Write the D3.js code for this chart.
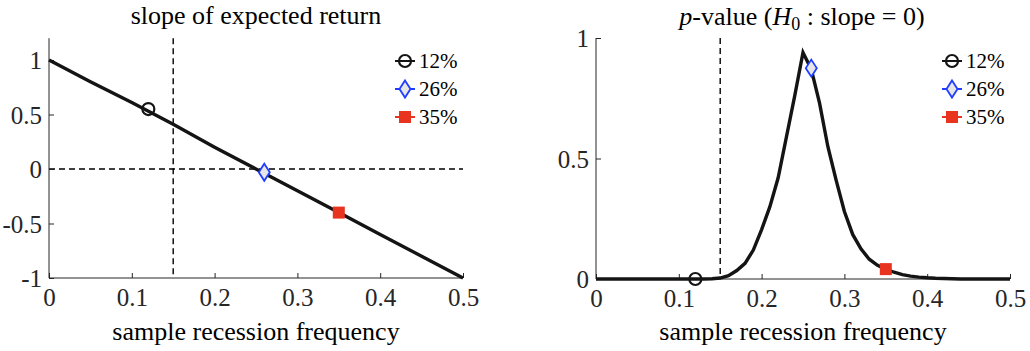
<!DOCTYPE html>
<html>
<head>
<meta charset="utf-8">
<title>Recession frequency</title>
<style>
  body { margin: 0; background: #fff; }
  svg { display: block; }
</style>
</head>
<body>
<svg id="chart" width="1030" height="351"></svg>
<script src="https://cdn.jsdelivr.net/npm/d3@7"></script>
<script>
// sample recession frequency grid for the slope line
var slopeX = [0, 0.05, 0.1, 0.15, 0.2, 0.25, 0.3, 0.35, 0.4, 0.45, 0.5];
var slopeY = [1, 0.8, 0.61, 0.41, 0.2, 0.0, -0.2, -0.4, -0.6, -0.8, -1];

// p-value curve, 0.01 steps
var pX = [0, 0.01, 0.02, 0.03, 0.04, 0.05, 0.06, 0.07, 0.08, 0.09, 0.1,
          0.11, 0.12, 0.13, 0.14, 0.15, 0.16, 0.17, 0.18, 0.19, 0.2,
          0.21, 0.22, 0.23, 0.24, 0.25, 0.26, 0.27, 0.28, 0.29, 0.3,
          0.31, 0.32, 0.33, 0.34, 0.35, 0.36, 0.37, 0.38, 0.39, 0.4,
          0.41, 0.42, 0.43, 0.44, 0.45, 0.46, 0.47, 0.48, 0.49, 0.5];
var pY = [0, 0, 0, 0, 0, 0, 0, 0, 0, 0, 0,
          0, 0, 0, 0.001, 0.004, 0.014, 0.035, 0.065, 0.12, 0.205,
          0.30, 0.42, 0.59, 0.76, 0.94, 0.87, 0.73, 0.55, 0.41, 0.28,
          0.185, 0.125, 0.082, 0.057, 0.041, 0.028, 0.018, 0.012, 0.008, 0.005,
          0.003, 0.002, 0.001, 0, 0, 0, 0, 0, 0, 0];

// highlighted samples
var markLabels = ["12%", "26%", "35%"];
var markX = [0.12, 0.26, 0.35];
var slopeMarkY = [0.55, -0.03, -0.4];
var pMarkY = [0, 0.875, 0.041];

var xTicks = [0, 0.1, 0.2, 0.3, 0.4, 0.5];
var slopeTicks = [-1, -0.5, 0, 0.5, 1];
var pTicks = [0, 0.5, 1];
var cutoff = 0.15;

var svg = d3.select("#chart");
var axisColor = "#262626";
var serif = "'Liberation Serif', 'Times New Roman', serif";
var fmt = function(d) { return String(d); };

function panel(opts) {
  var x = d3.scaleLinear().domain([0, 0.5]).range(opts.xr);
  var y = d3.scaleLinear().domain(opts.yd).range(opts.yr);
  var g = svg.append("g");

  // dashed reference lines
  g.append("line")
    .attr("x1", x(cutoff)).attr("x2", x(cutoff))
    .attr("y1", y(opts.yd[1])).attr("y2", y(opts.yd[0]))
    .attr("stroke", "#000").attr("stroke-width", 1.4)
    .attr("stroke-dasharray", "6,4");
  if (opts.zeroLine) {
    g.append("line")
      .attr("x1", x(0)).attr("x2", x(0.5))
      .attr("y1", y(0)).attr("y2", y(0))
      .attr("stroke", "#000").attr("stroke-width", 1.4)
      .attr("stroke-dasharray", "6,4");
  }

  // axes (MATLAB style: inward ticks, no box)
  var xa = g.append("g")
    .attr("transform", "translate(0," + y(opts.yd[0]) + ")")
    .call(d3.axisBottom(x).tickValues(xTicks).tickSize(-5).tickPadding(12).tickFormat(fmt));
  var ya = g.append("g")
    .attr("transform", "translate(" + x(0) + ",0)")
    .call(d3.axisLeft(y).tickValues(opts.ticks).tickSize(-5).tickPadding(7).tickFormat(fmt));
  [xa, ya].forEach(function(a) {
    a.attr("font-family", null).attr("font-size", null);
    a.select(".domain").remove();
    a.selectAll(".tick line").attr("stroke", axisColor);
    a.selectAll("text").attr("fill", axisColor)
      .style("font-family", serif).style("font-size", "25px");
  });
  g.append("line")
    .attr("x1", x(0)).attr("x2", x(0.5))
    .attr("y1", y(opts.yd[0])).attr("y2", y(opts.yd[0]))
    .attr("stroke", axisColor);
  g.append("line")
    .attr("x1", x(0)).attr("x2", x(0))
    .attr("y1", y(opts.yd[0])).attr("y2", y(opts.yd[1]))
    .attr("stroke", axisColor);
  xa.selectAll("text").attr("dy", "0.71em").attr("y", 10);
  ya.selectAll("text").attr("dy", "0.34em");

  // main curve
  var line = d3.line().x(function(d) { return x(d[0]); }).y(function(d) { return y(d[1]); });
  g.append("path")
    .datum(d3.zip(opts.xs, opts.ys))
    .attr("d", line)
    .attr("fill", "none")
    .attr("stroke", "#141414")
    .attr("stroke-width", 3.4)
    .attr("stroke-linejoin", "miter");

  // markers
  markX.forEach(function(mx, i) {
    drawMarker(g, i, x(mx), y(opts.my[i]));
  });

  // legend
  var lg = g.append("g");
  markLabels.forEach(function(lab, i) {
    var ly = 61 + i * 28;
    var mx = opts.legendX;
    lg.append("line")
      .attr("x1", mx - 10).attr("x2", mx + 10)
      .attr("y1", ly).attr("y2", ly)
      .attr("stroke", markerStroke(i)).attr("stroke-width", 2);
    drawMarker(lg, i, mx, ly);
    lg.append("text")
      .attr("x", mx + 14).attr("y", ly + 7)
      .attr("fill", "#000")
      .style("font-family", serif)
      .style("font-size", "21px")
      .text(lab);
  });

  // axis label
  g.append("text")
    .attr("x", (opts.xr[0] + opts.xr[1]) / 2)
    .attr("y", 340)
    .attr("text-anchor", "middle")
    .attr("fill", "#000")
    .style("font-family", serif)
    .style("font-size", "26px")
    .text("sample recession frequency");

  return g;
}

function markerStroke(i) {
  return ["#141414", "#1f3dff", "#e8331f"][i];
}

function drawMarker(g, i, cx, cy) {
  if (i === 0) {
    g.append("circle").attr("cx", cx).attr("cy", cy).attr("r", 6)
      .attr("fill", "none").attr("stroke", "#141414").attr("stroke-width", 2.2);
  } else if (i === 1) {
    g.append("path")
      .attr("d", "M" + cx + "," + (cy - 8.5) + "L" + (cx + 5.5) + "," + cy +
                 "L" + cx + "," + (cy + 8.5) + "L" + (cx - 5.5) + "," + cy + "Z")
      .attr("fill", "#e6e6e6").attr("stroke", "#1f3dff").attr("stroke-width", 1.8);
  } else {
    g.append("rect").attr("x", cx - 6).attr("y", cy - 6).attr("width", 12).attr("height", 12)
      .attr("fill", "#e8331f");
  }
}

var left = panel({
  xr: [49, 463], yd: [-1, 1.2], yr: [278, 38.2], ticks: slopeTicks,
  xs: slopeX, ys: slopeY, my: slopeMarkY, zeroLine: true, legendX: 405
});
left.append("text")
  .attr("x", 256).attr("y", 24)
  .attr("text-anchor", "middle")
  .attr("fill", "#000")
  .style("font-family", serif)
  .style("font-size", "26px")
  .text("slope of expected return");

var right = panel({
  xr: [596, 1010], yd: [0, 1], yr: [279, 38], ticks: pTicks,
  xs: pX, ys: pY, my: pMarkY, zeroLine: false, legendX: 952
});
var t = right.append("text")
  .attr("x", 802).attr("y", 25)
  .attr("text-anchor", "middle")
  .attr("fill", "#000")
  .style("font-family", serif)
  .style("font-size", "26px");
t.append("tspan").style("font-style", "italic").text("p");
t.append("tspan").text("-value (");
t.append("tspan").style("font-style", "italic").text("H");
t.append("tspan").attr("dy", 5).style("font-size", "18px").text("0");
t.append("tspan").attr("dy", -5).text(" : slope = 0)");
</script>
</body>
</html>
